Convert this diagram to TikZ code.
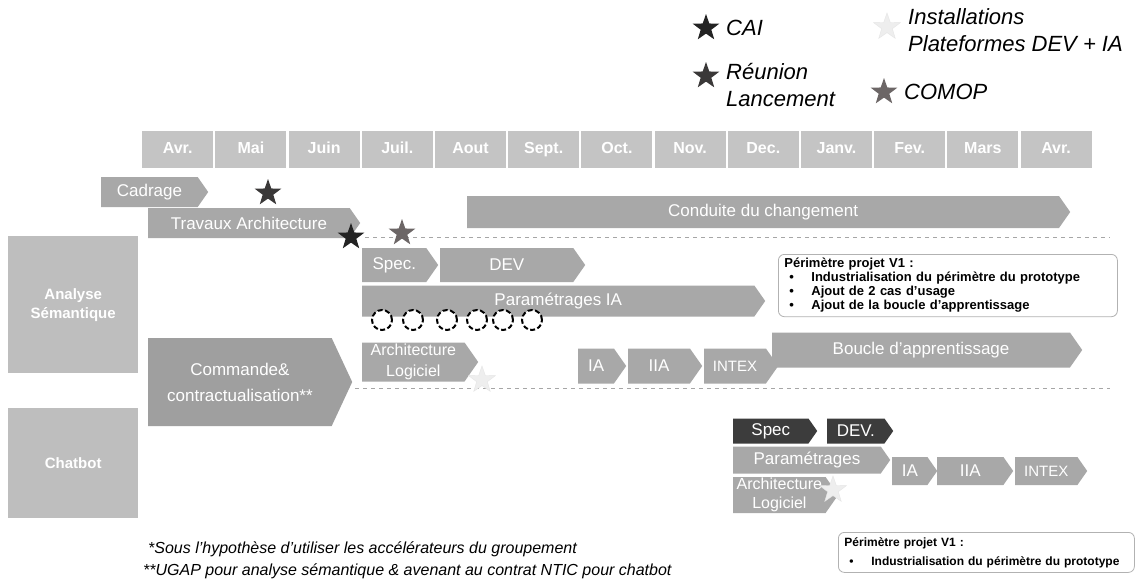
\documentclass[tikz,border=0pt]{standalone}
\usepackage{fontspec}
\setmainfont{Liberation Sans}
\usetikzlibrary{shapes.symbols,shapes.geometric}

\definecolor{moisgris}{HTML}{C4C4C4}
\definecolor{barregris}{HTML}{A8A8A8}
\definecolor{entetegris}{HTML}{BEBEBE}
\definecolor{foncegris}{HTML}{3C3C3C}
\definecolor{caicol}{HTML}{232323}
\definecolor{reunioncol}{HTML}{3A3838}
\definecolor{comopcol}{HTML}{6C6666}
\definecolor{installcol}{HTML}{EEEEEE}

\tikzset{
  mois/.style={fill=moisgris, text=white, font=\bfseries\fontsize{16}{16}\selectfont,
    text height=11.5pt, text depth=3pt,
    minimum width=71pt, minimum height=37pt, inner sep=0pt, anchor=north west},
  phase/.style 2 args={signal, signal to=east, signal pointer angle=110,
    fill=barregris, text=white, font=\fontsize{17}{19}\selectfont, align=center,
    inner sep=0pt, anchor=west, minimum width=#1pt, minimum height=#2pt},
  entete/.style={fill=entetegris, text=white, font=\bfseries\fontsize{15}{19}\selectfont,
    align=center, inner sep=0pt, anchor=north west},
  jalon/.style={star, star points=5, star point ratio=2.5, minimum size=28pt, inner sep=0pt},
  legende/.style={font=\itshape\fontsize{22}{27}\selectfont, align=left, anchor=west, inner sep=0pt},
  perim/.style={draw=gray!60, line width=0.8pt, rounded corners=6pt, align=left,
    anchor=north west, inner xsep=6pt, inner ysep=4pt},
  pointille/.style={draw=gray!70, line width=1pt, dash pattern=on 4pt off 4pt},
  cercle/.style={circle, draw=black, fill=white, line width=2pt, dash pattern=on 5pt off 2.5pt,
    minimum size=20pt, inner sep=0pt},
  note/.style={font=\itshape\fontsize{16}{18}\selectfont, anchor=west, inner sep=0pt}
}
\newcommand{\puce}{\hspace*{5pt}\makebox[22pt][l]{\textbullet}}

\begin{document}
\begin{tikzpicture}[x=1pt,y=-1pt]
\fill[white] (0,0) rectangle (1136,582);
\useasboundingbox (0,0) rectangle (1136,582);

% legende
\node[jalon, fill=caicol] (sCAI) at (706,28) {};
\node[legende] (tCAI) at (726,28) {CAI};
\node[jalon, fill=reunioncol] (sReunion) at (706,76) {};
\node[legende] (tReunion) at (726,85) {Réunion\\Lancement};
\node[jalon, fill=installcol, draw=gray!20] (sInstall) at (887,27) {};
\node[legende] (tInstall) at (908,30) {Installations\\Plateformes DEV + IA};
\node[jalon, fill=comopcol] (sCOMOP) at (884,92) {};
\node[legende] (tCOMOP) at (904,92) {COMOP};

% mois
\foreach \m [count=\i from 0] in {Avr.,Mai,Juin,Juil.,Aout,Sept.,Oct.,Nov.,Dec.,Janv.,Fev.,Mars,Avr.}
  \node[mois] (m\i) at (142+73.2*\i,131) {\m};

% lignes pointillees
\coordinate (p1a) at (365,237);
\coordinate (p1b) at (1110,237);
\coordinate (p2a) at (355,388);
\coordinate (p2b) at (1110,388);
\draw[pointille] (p1a) -- (p1b);
\draw[pointille] (p2a) -- (p2b);

% entetes
\node[entete, minimum width=130pt, minimum height=137pt] (analyse) at (8,236) {Analyse\\Sémantique};
\node[entete, minimum width=130pt, minimum height=110pt] (chatbot) at (8,408) {Chatbot};

% phases communes
\node[phase={107}{30}] (cadrage) at (101,192) {Cadrage};
\node[phase={212}{30}] (travaux) at (148,223) {Travaux Architecture};
\node[phase={603}{32}] (conduite) at (467,212) {Conduite du changement};
\node[phase={204}{88}, signal pointer angle=130, fill=gray!75,
  font=\fontsize{17}{26}\selectfont] (commande) at (148,382) {Commande\&\\contractualisation**};

% analyse semantique
\node[phase={76}{34}] (spec) at (362,265) {Spec.};
\node[phase={145}{34}] (dev) at (440,265) {DEV};
\node[phase={403}{31}] (paramIA) at (362,301) {Paramétrages IA};
\foreach \cx [count=\k] in {382,413,447,477,503,532}
  \node[cercle] (c\k) at (\cx,320) {};
\node[phase={116}{39}, font=\fontsize{16}{21}\selectfont] (archiAS) at (362,362) {Architecture\\Logiciel};
\node[phase={48}{35}] (iaAS) at (578,366) {IA};
\node[phase={74}{35}] (iiaAS) at (628,366) {IIA};
\node[phase={74}{35}, font=\fontsize{15}{17}\selectfont] (intexAS) at (704,366) {INTEX};
\node[phase={310}{35}] (boucle) at (772,350) {Boucle d'apprentissage};

% chatbot
\node[phase={84}{25}, fill=foncegris] (specCB) at (733,431) {Spec};
\node[phase={66}{25}, fill=foncegris] (devCB) at (827,431) {DEV.};
\node[phase={157}{27}] (paramCB) at (733,460) {Paramétrages};
\node[phase={45}{28}] (iaCB) at (892,471) {IA};
\node[phase={76}{28}] (iiaCB) at (937,471) {IIA};
\node[phase={72}{28}, font=\fontsize{15}{17}\selectfont] (intexCB) at (1015,471) {INTEX};
\node[phase={105}{36}, font=\fontsize{16}{19}\selectfont] (archiCB) at (733,495) {Architecture\\Logiciel};

% jalons
\node[jalon, fill=reunioncol] (j1) at (268,193) {};
\node[jalon, fill=caicol] (j2) at (351,237) {};
\node[jalon, fill=comopcol] (j3) at (402,233) {};
\node[jalon, fill=installcol, draw=gray!20] (j4) at (482,380) {};
\node[jalon, fill=installcol, draw=gray!20] (j5) at (833,490) {};

% perimetres
\node[perim, text width=327pt, minimum height=61pt, font=\bfseries\fontsize{13}{14}\selectfont] (perimAS) at (778,254)
  {Périmètre projet V1 :\\
   \puce Industrialisation du périmètre du prototype\\
   \puce Ajout de 2 cas d'usage\\
   \puce Ajout de la boucle d'apprentissage};
\node[perim, text width=284pt, minimum height=40pt, font=\bfseries\fontsize{12}{19}\selectfont] (perimCB) at (838,532)
  {Périmètre projet V1 :\\
   \puce Industrialisation du périmètre du prototype};

% notes
\node[note] (n1) at (148,549) {*Sous l'hypothèse d'utiliser les accélérateurs du groupement};
\node[note] (n2) at (143,571) {**UGAP pour analyse sémantique \& avenant au contrat NTIC pour chatbot};
\end{tikzpicture}
\end{document}
